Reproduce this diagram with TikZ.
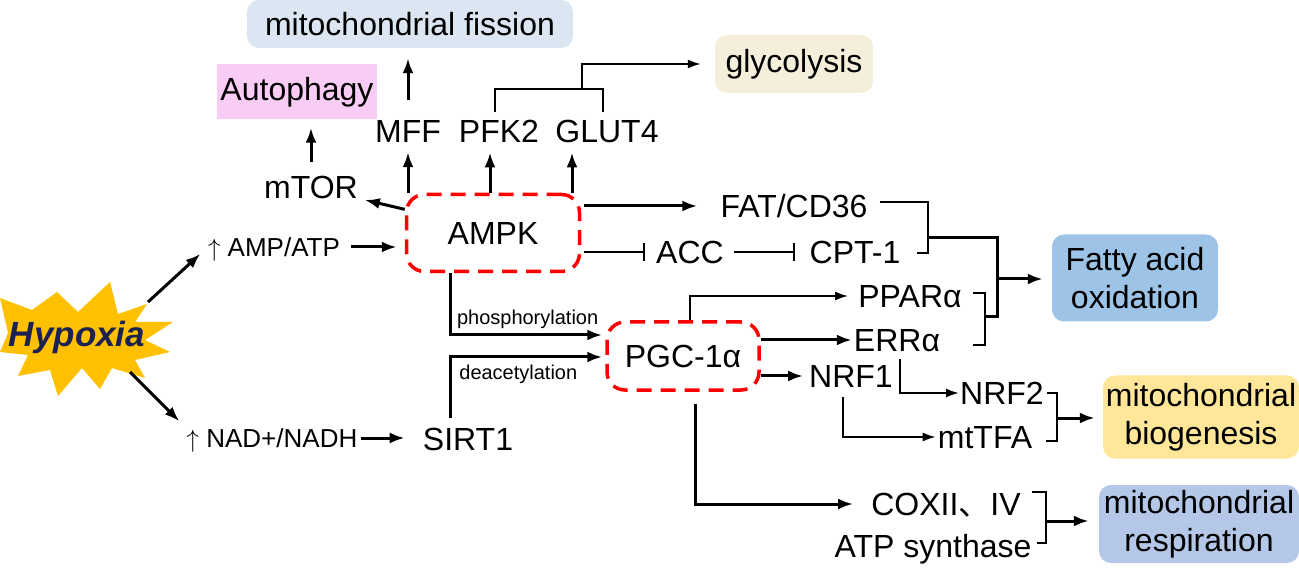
\documentclass[tikz,border=0pt]{standalone}
\usepackage{fontspec}
\setmainfont{Liberation Sans}
\newfontfamily\cjkfont{Noto Sans CJK SC}
\usetikzlibrary{arrows.meta,calc}

\definecolor{burst}{HTML}{FFC000}
\definecolor{hypcol}{HTML}{1B2150}
\definecolor{fisscol}{HTML}{DCE6F2}
\definecolor{autocol}{HTML}{F9CCF5}
\definecolor{glyccol}{HTML}{F4EEDA}
\definecolor{faocol}{HTML}{9DC3E6}
\definecolor{biocol}{HTML}{FFE699}
\definecolor{respcol}{HTML}{B4C7E7}

\tikzset{
  lbl/.style={font=\fontsize{32}{38}\selectfont, inner sep=0pt, text depth=0pt},
  sml/.style={font=\fontsize{26}{30}\selectfont, inner sep=0pt, text depth=0pt},
  note/.style={font=\fontsize{20}{24}\selectfont, inner sep=1pt},
  proc/.style={font=\fontsize{32}{38}\selectfont, align=center, inner sep=0pt, rounded corners=12pt},
  hub/.style={draw=red, line width=3.5pt, dash pattern=on 15pt off 9pt, rounded corners=18pt, font=\fontsize{32}{38}\selectfont},
  arr/.style={-{Latex[length=15pt,width=11pt]}, line width=3pt},
  tarr/.style={-{Latex[length=13pt,width=9pt]}, line width=2pt},
  inh/.style={-{Bar[width=18pt,line width=2pt]}, line width=2pt},
  brk/.style={line width=2pt},
}

\begin{document}
\begin{tikzpicture}[x=1pt,y=-1pt]
  \useasboundingbox (0,0) rectangle (1299,569);
  % hypoxia burst
  \fill[burst] (0,298) -- (32,310) -- (57,292) -- (78,312) -- (110,282) -- (118,314) -- (147,304)
    -- (135,322) -- (173,322) -- (145,340) -- (170,352) -- (135,360) -- (145,378) -- (112,368)
    -- (100,389) -- (82,368) -- (58,396) -- (50,370) -- (18,376) -- (28,355) -- (0,352) -- (8,333) -- cycle;
  \node[font=\fontsize{35}{40}\selectfont\bfseries\itshape, text=hypcol, inner sep=0pt, text depth=0pt] (hyp) at (77,334) {Hypoxia};
  \coordinate (hypne) at (148,302);
  \coordinate (hypse) at (130,372);

  \node[sml] (amp) at (274,247) {$\uparrow$ AMP/ATP};
  \node[sml] (nad) at (272,438) {$\uparrow$ NAD+/NADH};
  \node[hub, minimum width=173pt, minimum height=77pt] (ampk) at (493,233) {AMPK};
  \node[hub, minimum width=152pt, minimum height=68pt] (pgc) at (683,356) {PGC-1α};
  \node[lbl] (sirt) at (468,439) {SIRT1};

  % top row
  \node[lbl] (mtor) at (311,187) {mTOR};
  \node[proc, fill=autocol, sharp corners, minimum width=160pt, minimum height=55pt] (autoph) at (297,92) {Autophagy};
  \node[proc, fill=fisscol, minimum width=326pt, minimum height=48pt] (fission) at (410,24) {mitochondrial fission};
  \node[lbl] (mff) at (408,131) {MFF};
  \node[lbl] (pfk) at (499,131) {PFK2};
  \node[lbl] (glut) at (607,131) {GLUT4};
  \node[proc, fill=glyccol, minimum width=158pt, minimum height=58pt] (glyc) at (794,64) {glycolysis};

  % right side
  \node[lbl] (fat) at (794,206) {FAT/CD36};
  \node[lbl] (acc) at (690,252) {ACC};
  \node[lbl] (cpt) at (855,252) {CPT-1};
  \node[lbl] (ppar) at (910,296) {PPARα};
  \node[lbl] (err) at (897,340) {ERRα};
  \node[lbl] (nrf1) at (851,376) {NRF1};
  \node[lbl] (nrfb) at (1002,393) {NRF2};
  \node[lbl] (mttfa) at (985,437) {mtTFA};
  \node[lbl] (cox) at (946,504) {COXII{\cjkfont 、}IV};
  \node[lbl] (atps) at (933,546) {ATP synthase};
  \node[proc, fill=faocol, minimum width=166pt, minimum height=87pt] (fao) at (1135,278) {Fatty acid\\oxidation};
  \node[proc, fill=biocol, minimum width=196pt, minimum height=83pt] (biog) at (1201,417) {mitochondrial\\biogenesis};
  \node[proc, fill=respcol, minimum width=200pt, minimum height=78pt] (resp) at (1199,524) {mitochondrial\\respiration};

  % hypoxia signals
  \draw[arr, shorten >=10pt] (hypne) -- (amp.west);
  \draw[arr, shorten >=10pt] (hypse) -- (nad.north west);
  \draw[arr, shorten <=11pt, shorten >=8pt] (amp.east) -- (amp.east -| ampk.west);
  \draw[arr, shorten <=3pt, shorten >=18pt] (nad.east) -- (nad.east -| sirt.west);

  % AMPK upwards
  \draw[arr, shorten >=7pt] (ampk.165) -- (mtor.south east);
  \draw[arr, shorten <=14pt, shorten >=8pt] (mtor.north) -- (mtor.north |- autoph.south);
  \draw[arr, shorten >=10pt] (ampk.north -| mff) -- (mff.south);
  \draw[arr, shorten <=20pt, shorten >=10pt] (mff.north) -- (mff.north |- fission.south);
  \draw[arr, shorten >=10pt] ($(pfk.south |- ampk.north)+(-9,0)$) -- ($(pfk.south)+(-9,0)$);
  \draw[arr, shorten >=10pt] ($(glut.south |- ampk.north)+(-35,0)$) -- ($(glut.south)+(-35,0)$);
  \draw[brk] ($(pfk.north)+(-4,-8)$) |- ($(glut.north)+(-4,-31)$) -- ($(glut.north)+(-4,-8)$);
  \coordinate (gj) at (582,90);
  \draw[tarr, shorten >=14pt] (gj) |- (glyc.west);

  % fatty acid oxidation
  \draw[arr, shorten <=3pt, shorten >=23pt] (fat -| ampk.east) -- (fat.west);
  \draw[inh, shorten <=3pt, shorten >=11pt] (acc -| ampk.east) -- (acc.west);
  \draw[inh, shorten <=10pt, shorten >=14pt] (acc.east) -- (cpt.west);
  \draw[brk] ($(fat.east)+(12,-4)$) -| ($(cpt.east)+(27,1)$) -- ($(cpt.east)+(16,1)$);
  \draw[brk] ($(ppar.east)+(11,-3)$) -| ($(err.east)+(45,5)$) -- ($(err.east)+(33,5)$);
  \draw[line width=3pt] (928,238) -| (997,317) -- (985,317);
  \coordinate (fj) at (997,279);
  \draw[arr, shorten >=9pt] (fj) -- (fj -| fao.west);

  % PGC-1a in and out
  \draw[arr, shorten >=3pt] ($(ampk.south)+(-43,0)$) |- ($(pgc.west)+(0,-21)$)
    node[note, pos=0.75, above=4pt] {phosphorylation};
  \draw[arr, shorten >=3pt] ($(sirt.north)+(-18,-10)$) |- ($(pgc.west)+(0,1)$)
    node[note, pos=0.72, below=6pt] {deacetylation};
  \draw[tarr, shorten >=10pt] ($(pgc.north)+(7,0)$) |- (ppar.west);
  \draw[arr, shorten >=2pt] (err -| pgc.east) -- (err.west);
  \draw[arr, shorten >=6pt] (nrf1 -| pgc.east) -- (nrf1.west);
  \draw[tarr, shorten >=1pt] ($(err.south)+(3,8)$) |- (nrfb.west);
  \draw[tarr, shorten >=2pt] ($(nrf1.south)+(-8,10)$) |- (mttfa.west);
  \draw[brk] ($(nrfb.east)+(3,0)$) -| ($(mttfa.east)+(25,4)$) -- ($(mttfa.east)+(14,4)$);
  \coordinate (bj) at (1058,418);
  \draw[arr, shorten >=8pt] (bj) -- (bj -| biog.west);

  % respiration
  \draw[arr, shorten >=18pt] ($(pgc.south)+(12,12)$) |- (cox.west);
  \draw[brk] ($(cox.east)+(11,-12)$) -| ($(atps.east)+(14,-3)$) -- ($(atps.east)+(5,-3)$);
  \coordinate (rj) at (1047,521);
  \draw[arr, shorten >=10pt] (rj) -- (rj -| resp.west);
\end{tikzpicture}
\end{document}
